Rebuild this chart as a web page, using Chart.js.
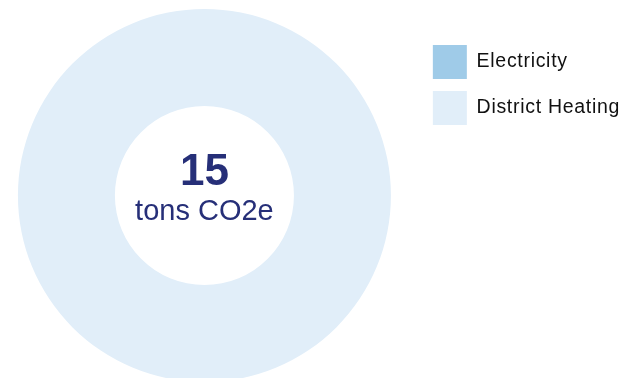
<!DOCTYPE html>
<html>
<head>
<meta charset="utf-8">
<title>Emissions by source</title>
<script src="https://cdn.jsdelivr.net/npm/chart.js@4/dist/chart.umd.min.js"></script>
<style>
  html, body { margin: 0; padding: 0; background: #fff; }
  .page { position: relative; width: 630px; height: 378px; overflow: hidden; }
  /* shifted left a bit so the ring sits where it should next to the legend */
  .chart__wrap { position: absolute; left: -12px; top: 0; width: 642px; height: 392px; }
</style>
</head>
<body>
<div class="page">
  <div class="chart__wrap"><canvas id="myChart"></canvas></div>
</div>
<script>
const sources = ['Electricity', 'District Heating'];
const emissions = [0, 15];
const unitLabel = 'tons CO2e';
const sourceColors = ['#9fcbe8', '#e1eef9'];

const fontFamily = '"Liberation Sans", Arial, Helvetica, sans-serif';
const navy = '#262f78';

const total = emissions.reduce((acc, v) => acc + v, 0);

// legend text is a bit tracked out
const letterSpacing = {
  id: 'letterSpacing',
  beforeLayout(chart) { chart.ctx.letterSpacing = '0.7px'; },
  beforeDraw(chart) { chart.ctx.letterSpacing = '0.7px'; },
};

// total in the hole of the ring
const centerText = {
  id: 'centerText',
  afterDraw(chart) {
    const arc = chart.getDatasetMeta(0).data[0];
    if (!arc) return;
    const { ctx } = chart;
    ctx.save();
    ctx.letterSpacing = '0px';
    ctx.fillStyle = navy;
    ctx.textAlign = 'center';
    ctx.textBaseline = 'alphabetic';
    ctx.font = 'bold 44px ' + fontFamily;
    ctx.fillText(String(total), arc.x, arc.y - 10.5);
    ctx.font = '29px ' + fontFamily;
    ctx.fillText(unitLabel, arc.x, arc.y + 24);
    ctx.restore();
  },
};

const ctx = document.getElementById('myChart').getContext('2d');
const myChart = new Chart(ctx, {
  type: 'doughnut',
  data: {
    labels: sources,
    datasets: [{
      data: emissions,
      backgroundColor: sourceColors,
      borderWidth: 0,
      hoverOffset: 0,
    }],
  },
  options: {
    responsive: true,
    maintainAspectRatio: false,
    animation: false,
    cutout: '48%',
    layout: { padding: { top: 9, bottom: 10, left: 0, right: 0 } },
    plugins: {
      tooltip: { enabled: false },
      legend: {
        position: 'right',
        align: 'start',
        title: {
          display: true,
          text: '',
          font: { size: 12, lineHeight: 1 },
          padding: { top: 12, bottom: 0 },
        },
        labels: {
          boxWidth: 34,
          boxHeight: 34,
          padding: 12,
          color: '#111',
          font: { family: fontFamily, size: 19.5 },
        },
      },
    },
  },
  plugins: [letterSpacing, centerText],
});
</script>
</body>
</html>
